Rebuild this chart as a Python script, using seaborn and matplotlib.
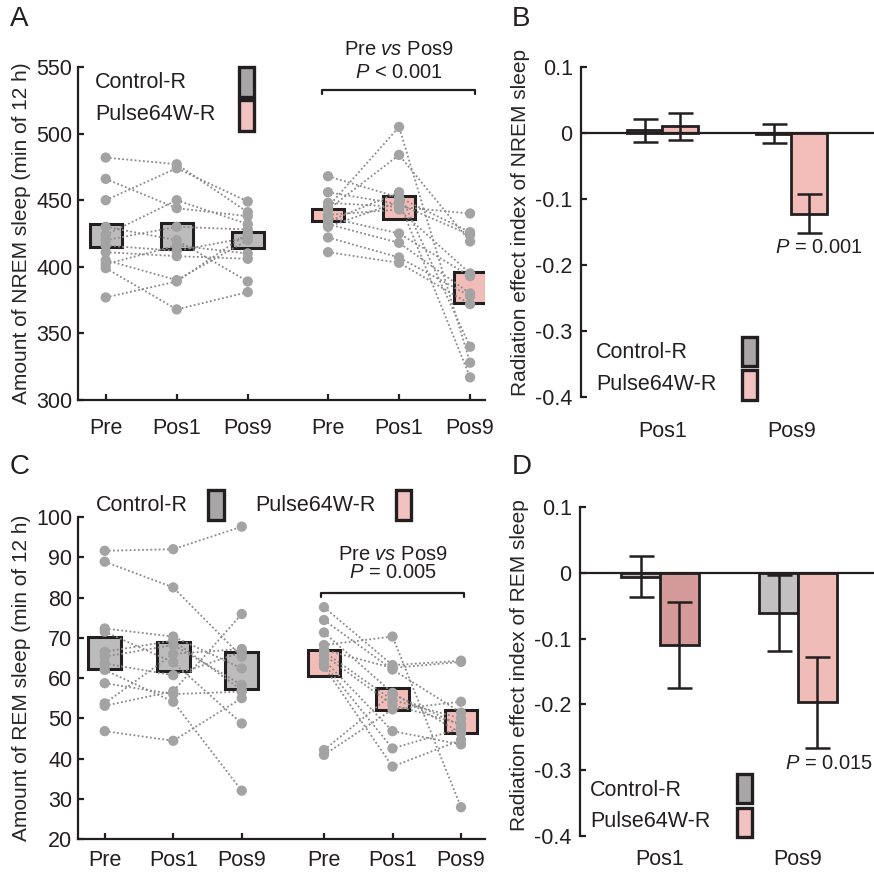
import numpy as np
import pandas as pd
import matplotlib
matplotlib.use("Agg")
import matplotlib.pyplot as plt
from matplotlib.patches import Rectangle
import seaborn as sns

# ---------------------------------------------------------------- data
times = ["Pre", "Pos1", "Pos9"]
groups = ["Control-R", "Pulse64W-R"]

# NREM sleep per animal (min of 12 h); index i is the same animal in every session
nrem_ctrl_pre = [482, 466, 450, 430, 424, 420, 416, 411, 405, 402, 399, 377]
nrem_ctrl_pos1 = [477, 444, 474, 420, 450, 430, 412, 408, 390, 416, 368, 389]
nrem_ctrl_pos9 = [441, 438, 449, 389, 432, 428, 422, 406, 420, 410, 381, 425]
nrem_pulse_pre = [468, 456, 448, 445, 443, 439, 437, 434, 432, 430, 422, 411]
nrem_pulse_pos1 = [452, 447, 445, 505, 484, 443, 425, 456, 418, 449, 407, 403]
nrem_pulse_pos9 = [426, 424, 440, 328, 419, 395, 393, 340, 380, 317, 378, 372]

# REM sleep per animal (min of 12 h)
rem_ctrl_pre = [91.6, 88.9, 72.3, 71.5, 66.5, 65.3, 63.6, 62.0, 58.7, 53.7, 53.1, 46.8]
rem_ctrl_pos1 = [92.0, 82.5, 70.3, 63.9, 69.3, 68.2, 60.7, 54.1, 56.0, 66.0, 56.7, 44.4]
rem_ctrl_pos9 = [97.6, 65.3, 62.4, 48.7, 57.0, 58.3, 66.4, 32.0, 56.6, 67.2, 75.9, 55.0]
rem_pulse_pre = [77.6, 74.4, 71.3, 68.2, 67.0, 66.5, 65.7, 64.5, 63.5, 62.8, 42.1, 40.9]
rem_pulse_pos1 = [63.2, 62.1, 56.3, 70.3, 62.5, 54.5, 53.3, 46.8, 42.5, 38.0, 56.0, 52.2]
rem_pulse_pos9 = [64.3, 51.4, 46.3, 27.9, 64.0, 50.0, 48.6, 43.5, 47.5, 44.6, 48.2, 54.1]

# Radiation effect index (mean and SEM) at Pos1 / Pos9
effect_times = ["Pos1", "Pos9"]
nrem_idx_ctrl = [0.004, -0.001]
nrem_idx_ctrl_sem = [0.017, 0.014]
nrem_idx_pulse = [0.010, -0.122]
nrem_idx_pulse_sem = [0.020, 0.029]
rem_idx_ctrl = [-0.006, -0.061]
rem_idx_ctrl_sem = [0.031, 0.058]
rem_idx_pulse = [-0.110, -0.197]
rem_idx_pulse_sem = [0.065, 0.069]

# ---------------------------------------------------------------- style
sns.set_style("ticks")
plt.rcParams["font.family"] = ["Liberation Sans", "DejaVu Sans"]
plt.rcParams["mathtext.fontset"] = "custom"
plt.rcParams["mathtext.rm"] = "Liberation Sans"
plt.rcParams["mathtext.it"] = "Liberation Sans:italic"
plt.rcParams["axes.unicode_minus"] = False

DARK = "#231f20"
DOT = "#a3a3a3"
LINE = "#8a8a8a"
CTRL_BOX = "#bdbcbc"
PULSE_BOX = "#f2bdb9"
CTRL_LEG = "#a8a6a6"
PULSE_LEG = "#f1c2c0"
TICK_FS = 15.5
LAB_FS = 15

fig = plt.figure(figsize=(8.74, 8.72), dpi=100)
W, H = 874, 872


def rect(l, t, r, b):
    return [l / W, 1 - b / H, (r - l) / W, (b - t) / H]


def style_axis(ax, xpad):
    for s in ["top", "right"]:
        ax.spines[s].set_visible(False)
    for s in ["left", "bottom"]:
        ax.spines[s].set_color(DARK)
        ax.spines[s].set_linewidth(1.6)
    ax.tick_params(direction="in", length=4, width=1.6, color=DARK,
                   labelsize=TICK_FS, labelcolor=DARK)
    ax.tick_params(axis="x", pad=xpad)
    ax.tick_params(axis="y", pad=4)


def key(label, text_x, text_y, box, color):
    """One legend row: label text and a tall swatch, placed in figure pixels."""
    fig.text(text_x / W, 1 - text_y / H, label, fontsize=TICK_FS, color=DARK,
             ha="left", va="center")
    l, t, r, b = box
    fig.add_artist(Rectangle((l / W, 1 - b / H), (r - l) / W, (b - t) / H,
                             transform=fig.transFigure, facecolor=color,
                             edgecolor=DARK, linewidth=2.4))


def paired_panel(ax, ctrl, pulse, xpos, box_w):
    sets = [(ctrl, CTRL_BOX, xpos[:3]), (pulse, PULSE_BOX, xpos[3:])]
    for vals, fill, xs in sets:
        rows = []
        for ti, series in enumerate(vals):
            for subj, v in enumerate(series):
                rows.append({"subject": subj, "x": xs[ti], "value": v})
        df = pd.DataFrame(rows)
        stats = df.groupby("x")["value"].agg(["mean", "std", "count"]).reset_index()
        stats["sem"] = stats["std"] / np.sqrt(stats["count"])
        ax.bar(stats["x"], 2 * stats["sem"], bottom=stats["mean"] - stats["sem"],
               width=box_w, color=fill, edgecolor=DARK, linewidth=2.2, zorder=1)
        sns.lineplot(data=df, x="x", y="value", units="subject", estimator=None,
                     color=LINE, linestyle=(0, (1, 1.3)), linewidth=1.3,
                     ax=ax, zorder=2, legend=False)
        sns.scatterplot(data=df, x="x", y="value", color=DOT, s=55,
                        edgecolor="none", ax=ax, zorder=3, legend=False)
    ax.set_xticks(xpos)
    ax.set_xticklabels(times * 2)
    ax.set_xlabel("")


def bracket(ax, x0, x1, y, drop, label_top, y_top, label_p, y_p):
    ax.plot([x0, x0, x1, x1], [y - drop, y, y, y - drop], color=DARK,
            lw=1.6, clip_on=False, zorder=4)
    xm = (x0 + x1) / 2
    ax.text(xm, y_top, label_top, ha="center", va="center", fontsize=14.5,
            color=DARK, clip_on=False)
    ax.text(xm, y_p, label_p, ha="center", va="center", fontsize=14.5,
            color=DARK, clip_on=False)


def effect_panel(ax, ctrl, ctrl_sem, pulse, pulse_sem, width, colors):
    df = pd.DataFrame({
        "time": effect_times * 2,
        "group": [groups[0]] * 2 + [groups[1]] * 2,
        "value": list(ctrl) + list(pulse),
    })
    sns.barplot(data=df, x="time", y="value", hue="group", order=effect_times,
                hue_order=groups, palette=[CTRL_BOX, PULSE_BOX], errorbar=None,
                width=width, dodge=True, gap=0, edgecolor=DARK, linewidth=2.0,
                legend=False, ax=ax, zorder=2)
    bars = [p for c in ax.containers for p in c]
    for p, c in zip(bars, colors):
        p.set_facecolor(c)
    off = width / 4
    ax.errorbar(np.arange(2) - off, ctrl, yerr=ctrl_sem, fmt="none",
                ecolor=DARK, elinewidth=1.8, capsize=9, capthick=1.8, zorder=4)
    ax.errorbar(np.arange(2) + off, pulse, yerr=pulse_sem, fmt="none",
                ecolor=DARK, elinewidth=1.8, capsize=9, capthick=1.8, zorder=4)
    ax.axhline(0, color=DARK, lw=1.6, zorder=3)
    for s in ["top", "right", "bottom"]:
        ax.spines[s].set_visible(False)
    ax.spines["left"].set_color(DARK)
    ax.spines["left"].set_linewidth(1.6)
    ax.tick_params(axis="y", direction="in", length=4, width=1.6, color=DARK,
                   labelsize=TICK_FS, pad=6, labelcolor=DARK)
    ax.tick_params(axis="x", length=0, labelsize=TICK_FS, pad=17, labelcolor=DARK)
    ax.set_ylim(-0.4, 0.1)
    ax.set_yticks([0.1, 0, -0.1, -0.2, -0.3, -0.4])
    ax.set_yticklabels(["0.1", "0", "-0.1", "-0.2", "-0.3", "-0.4"])
    ax.set_xlabel("")


# ---------------------------------------------------------------- A
axA = fig.add_axes(rect(78, 67, 485, 400))
xposA = [0, 1, 2, 3.13, 4.13, 5.13]
paired_panel(axA, [nrem_ctrl_pre, nrem_ctrl_pos1, nrem_ctrl_pos9],
             [nrem_pulse_pre, nrem_pulse_pos1, nrem_pulse_pos9], xposA, 0.45)
axA.set_xlim(-0.39, 5.34)
axA.set_ylim(300, 550)
axA.set_yticks(range(300, 551, 50))
style_axis(axA, 13)
axA.set_ylabel("Amount of NREM sleep (min of 12 h)", fontsize=LAB_FS, labelpad=4)
bracket(axA, 3.05, 5.2, 533, 3.5, r"Pre $\mathit{vs}$ Pos9", 563,
        r"$P$ < 0.001", 545.5)
key(groups[0], 95, 83, (239, 67, 254, 97), CTRL_LEG)
key(groups[1], 95, 115, (239, 100, 254, 131), PULSE_LEG)

# ---------------------------------------------------------------- B
axB = fig.add_axes(rect(581, 67, 874, 397))
effect_panel(axB, nrem_idx_ctrl, nrem_idx_ctrl_sem, nrem_idx_pulse,
             nrem_idx_pulse_sem, 0.55, [CTRL_BOX, CTRL_BOX, PULSE_BOX, PULSE_BOX])
axB.set_xlim(-0.63, 1.64)
axB.set_ylabel("Radiation effect index of NREM sleep", fontsize=LAB_FS)
axB.yaxis.set_label_coords(-0.175, 0.53)
axB.text(1.21, -0.174, r"$P$ = 0.001", ha="center", va="center",
         fontsize=14.5, color=DARK)
key(groups[0], 596, 353, (742, 337, 757, 366), CTRL_LEG)
key(groups[1], 596, 384, (742, 370, 757, 400), PULSE_LEG)

# ---------------------------------------------------------------- C
axC = fig.add_axes(rect(78, 517, 485, 839))
xposC = [0, 1, 2, 3.2, 4.2, 5.2]
paired_panel(axC, [rem_ctrl_pre, rem_ctrl_pos1, rem_ctrl_pos9],
             [rem_pulse_pre, rem_pulse_pos1, rem_pulse_pos9], xposC, 0.48)
axC.set_xlim(-0.39, 5.55)
axC.set_ylim(20, 100)
axC.set_yticks(range(20, 101, 10))
style_axis(axC, 8)
axC.set_ylabel("Amount of REM sleep (min of 12 h)", fontsize=LAB_FS, labelpad=4)
bracket(axC, 3.15, 5.25, 81.1, 1.0, r"Pre $\mathit{vs}$ Pos9", 90.6,
        r"$P$ = 0.005", 86.3)
key(groups[0], 96, 505, (208, 490, 224, 520), CTRL_LEG)
key(groups[1], 255, 505, (396, 490, 411, 520), PULSE_LEG)

# ---------------------------------------------------------------- D
axD = fig.add_axes(rect(580, 507, 874, 836))
effect_panel(axD, rem_idx_ctrl, rem_idx_ctrl_sem, rem_idx_pulse,
             rem_idx_pulse_sem, 0.56, ["#c2c0c0", "#c2c0c0", "#d49a9a", "#efbcb8"])
axD.set_xlim(-0.58, 1.55)
axD.tick_params(axis="x", pad=9)
axD.set_ylabel("Radiation effect index of REM sleep", fontsize=LAB_FS)
axD.yaxis.set_label_coords(-0.172, 0.52)
axD.text(1.22, -0.29, r"$P$ = 0.015", ha="center", va="center",
         fontsize=14.5, color=DARK)
key(groups[0], 590, 790, (737, 774, 752, 803), CTRL_LEG)
key(groups[1], 590, 821, (737, 808, 752, 837), PULSE_LEG)

# ---------------------------------------------------------------- panel letters
for letter, x, y in [("A", 10, 6), ("B", 512, 6), ("C", 10, 454), ("D", 512, 454)]:
    fig.text(x / W, 1 - y / H, letter, fontsize=20, va="top", ha="left", color=DARK)

fig.savefig("out.png", dpi=100)
